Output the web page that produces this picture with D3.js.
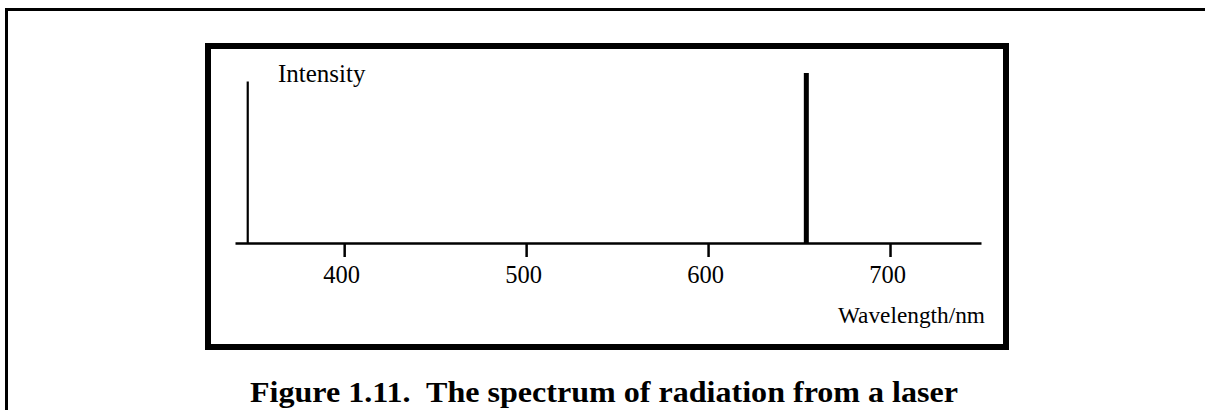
<!DOCTYPE html>
<html>
<head>
<meta charset="utf-8">
<script src="https://cdn.jsdelivr.net/npm/d3@7"></script>
<style>
  body { margin: 0; background: #fff; }
  svg { display: block; }
  text { font-family: "Liberation Serif", "Times New Roman", serif; fill: #000; }
</style>
</head>
<body>
<svg id="chart"></svg>
<script>
const width = 1205;
const height = 410;

// data
const wavelengthDomain = [340, 750];
const wavelengthTicks = [400, 500, 600, 700];
const intensityDomain = [0, 1];
const laserLines = [{ wavelength: 654, intensity: 1 }];
const intensityAxisAt = 347;
const intensityAxisTop = 0.95;
const xLabel = "Wavelength/nm";
const yLabel = "Intensity";
const caption = "Figure 1.11.  The spectrum of radiation from a laser";

const svg = d3.select("#chart")
  .attr("width", width)
  .attr("height", height);

// outer page frame (runs off right and bottom)
svg.append("path")
  .attr("d", `M6.5,${height + 5}V9.5H${width + 5}`)
  .attr("fill", "none")
  .attr("stroke", "#000")
  .attr("stroke-width", 3);

// inner figure box
svg.append("rect")
  .attr("x", 208).attr("y", 46)
  .attr("width", 798).attr("height", 301)
  .attr("fill", "none")
  .attr("stroke", "#000")
  .attr("stroke-width", 6);

const x = d3.scaleLinear().domain(wavelengthDomain).range([235, 981]);
const y = d3.scaleLinear().domain(intensityDomain).range([243, 73]);

const xAxis = svg.append("g")
  .attr("transform", `translate(0,${y(0)})`)
  .call(d3.axisBottom(x)
    .tickValues(wavelengthTicks)
    .tickFormat(d3.format("d"))
    .tickSize(14)
    .tickSizeOuter(0)
    .tickPadding(9));

xAxis.select(".domain").attr("stroke-width", 2.5);
xAxis.selectAll(".tick line").attr("stroke-width", 2.5);
xAxis.selectAll(".tick text")
  .attr("dx", -3)
  .attr("font-size", 24.5);

// intensity axis
svg.append("line")
  .attr("x1", x(intensityAxisAt)).attr("x2", x(intensityAxisAt))
  .attr("y1", y(0)).attr("y2", y(intensityAxisTop))
  .attr("stroke", "#000")
  .attr("stroke-width", 2.2);

// laser emission line
svg.append("g")
  .selectAll("line")
  .data(laserLines)
  .join("line")
  .attr("x1", d => x(d.wavelength)).attr("x2", d => x(d.wavelength))
  .attr("y1", y(0)).attr("y2", d => y(d.intensity))
  .attr("stroke", "#000")
  .attr("stroke-width", 5);

svg.append("text")
  .attr("x", 278).attr("y", 82)
  .attr("font-size", 25)
  .text(yLabel);

svg.append("text")
  .attr("x", 838).attr("y", 323)
  .attr("font-size", 23.3)
  .text(xLabel);

svg.append("text")
  .attr("x", 250).attr("y", 402)
  .attr("font-size", 29.5)
  .attr("font-weight", "bold")
  .attr("textLength", 708)
  .attr("lengthAdjust", "spacingAndGlyphs")
  .style("white-space", "pre")
  .text(caption);
</script>
</body>
</html>
